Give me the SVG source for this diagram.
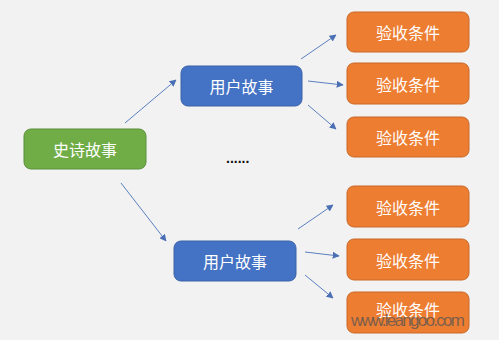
<svg xmlns="http://www.w3.org/2000/svg" width="499" height="340" viewBox="0 0 499 340">
<style>
.lbl{font-family:"Noto Sans CJK SC","Noto Sans",sans-serif;font-size:16px;fill:#ffffff;text-anchor:middle;dominant-baseline:central}
.g{fill:#70ad47;stroke:#5a8f38;stroke-width:1}
.b{fill:#4472c4;stroke:#3a62a8;stroke-width:1}
.o{fill:#ed7d31;stroke:#c8692a;stroke-width:1}
.c line{stroke:#5b7fc0;stroke-width:1;marker-end:url(#ah)}
</style>
<defs>
<marker id="ah" viewBox="0 0 10 10" refX="9" refY="5" markerWidth="7" markerHeight="7" markerUnits="userSpaceOnUse" orient="auto">
<path d="M0,0 L10,5 L0,10 z" fill="#4a6fb5"/>
</marker>
</defs>
<rect width="499" height="340" fill="#f2f2f2"/>
<g class="c" id="connectors">
<line x1="125" y1="123" x2="176" y2="80"/>
<line x1="121" y1="183" x2="166" y2="241"/>
<line x1="301" y1="59" x2="336" y2="35"/>
<line x1="308" y1="81" x2="343" y2="85"/>
<line x1="308" y1="105" x2="336" y2="129"/>
<line x1="298" y1="229" x2="333" y2="205"/>
<line x1="305" y1="252" x2="339" y2="256"/>
<line x1="305" y1="275" x2="333" y2="298"/>
</g>
<g id="epic"><rect class="g" x="24" y="129" width="122" height="40" rx="7"/><text class="lbl" x="85" y="149">史诗故事</text></g>
<g id="story1"><rect class="b" x="181" y="66" width="121" height="40" rx="7"/><text class="lbl" x="241.5" y="86">用户故事</text></g>
<g id="story2"><rect class="b" x="174" y="241" width="122" height="40" rx="7"/><text class="lbl" x="235" y="261">用户故事</text></g>
<g id="ac1"><rect class="o" x="347" y="12" width="122" height="40" rx="7"/><text class="lbl" x="408" y="32">验收条件</text></g>
<g id="ac2"><rect class="o" x="347" y="63" width="122" height="41" rx="7"/><text class="lbl" x="408" y="83.5">验收条件</text></g>
<g id="ac3"><rect class="o" x="347" y="117" width="122" height="40" rx="7"/><text class="lbl" x="408" y="137">验收条件</text></g>
<g id="ac4"><rect class="o" x="347" y="186" width="122" height="41" rx="7"/><text class="lbl" x="408" y="206.5">验收条件</text></g>
<g id="ac5"><rect class="o" x="347" y="239" width="122" height="41" rx="7"/><text class="lbl" x="408" y="259.5">验收条件</text></g>
<g id="ac6"><rect class="o" x="347" y="292" width="122" height="41" rx="7"/><text class="lbl" x="408" y="309">验收条件</text></g>
<g id="ellipsis"><text x="226" y="163" font-family="Liberation Sans,sans-serif" font-size="14" font-weight="bold" fill="#111">......</text></g>
<text x="351" y="326" font-family="Liberation Sans,Arial,sans-serif" font-size="17" fill="#555" fill-opacity="0.75" textLength="114">www.leangoo.com</text>
</svg>
